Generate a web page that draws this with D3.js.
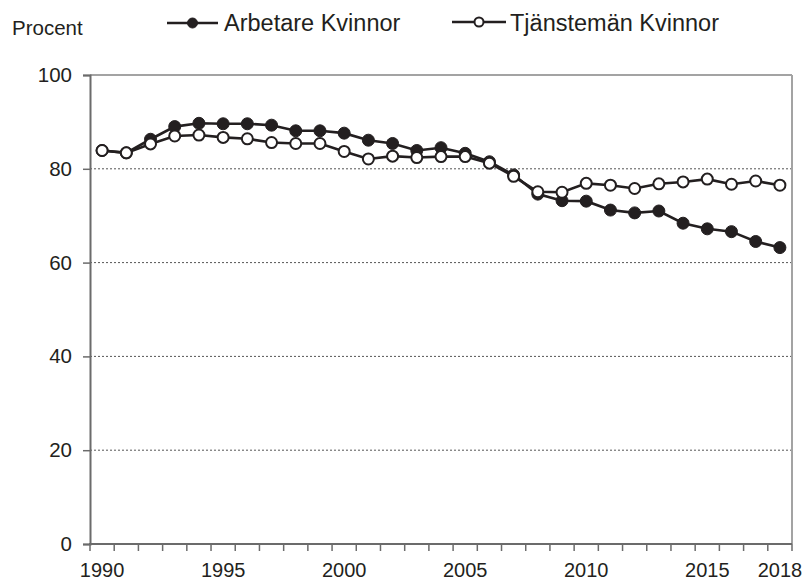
<!DOCTYPE html>
<html>
<head>
<meta charset="utf-8">
<script src="https://cdn.jsdelivr.net/npm/d3@7"></script>
<style>
  html, body { margin: 0; padding: 0; background: #fff; }
  svg { display: block; font-family: "Liberation Sans", Arial, sans-serif; }
</style>
</head>
<body>
<svg id="chart" width="807" height="580"></svg>
<script>
const years = d3.range(1990, 2019);
const arbetareKvinnor = [83.9, 83.4, 86.3, 89.0, 89.7, 89.6, 89.6, 89.3, 88.1, 88.1, 87.6, 86.1, 85.4, 83.9, 84.5, 83.3, 81.5, 78.7, 74.6, 73.2, 73.1, 71.2, 70.6, 71.0, 68.4, 67.2, 66.6, 64.5, 63.2];
const tjanstemanKvinnor = [83.9, 83.4, 85.3, 87.0, 87.2, 86.7, 86.4, 85.6, 85.4, 85.4, 83.7, 82.1, 82.7, 82.4, 82.6, 82.6, 81.2, 78.4, 75.1, 75.0, 76.9, 76.5, 75.8, 76.8, 77.2, 77.8, 76.7, 77.4, 76.5];
const yTicks = [0, 20, 40, 60, 80, 100];
const xTickLabels = [1990, 1995, 2000, 2005, 2010, 2015, 2018];
const seriesNames = ["Arbetare Kvinnor", "Tjänstemän Kvinnor"];

(function () {
const ink = "#231f20";
const svg = d3.select("#chart");
const pLeft = 90, pRight = 792, pTop = 75, pBottom = 544;

const x = d3.scaleBand().domain(years).range([pLeft, pRight]).padding(0);
const y = d3.scaleLinear().domain([0, 100]).range([pBottom, pTop]);
const cx = d => x(d) + x.bandwidth() / 2;

// gridlines
svg.append("g").selectAll("line")
  .data(yTicks.filter(t => t > 0 && t < 100))
  .join("line")
  .attr("x1", pLeft).attr("x2", pRight)
  .attr("y1", d => y(d)).attr("y2", d => y(d))
  .attr("stroke", "#555").attr("stroke-width", 1)
  .attr("stroke-dasharray", "2,2");

// frame top and right
svg.append("line").attr("x1", pLeft).attr("x2", pRight).attr("y1", y(100)).attr("y2", y(100))
  .attr("stroke", "#a3a3a3").attr("stroke-width", 2);
svg.append("line").attr("x1", pRight).attr("x2", pRight).attr("y1", y(100)).attr("y2", y(0))
  .attr("stroke", "#a3a3a3").attr("stroke-width", 2);

// y axis
const yAxis = svg.append("g").attr("transform", `translate(${pLeft},0)`)
  .call(d3.axisLeft(y).tickValues(yTicks).tickSize(7).tickPadding(11).tickFormat(d3.format("d")));
yAxis.select(".domain").attr("stroke", "#6b6b6b").attr("stroke-width", 2);
yAxis.selectAll(".tick line").attr("stroke", "#6b6b6b").attr("stroke-width", 1.5);
yAxis.selectAll("text").attr("font-size", 20.5).attr("fill", ink)
  .attr("font-family", "Liberation Sans, Arial, sans-serif");

// x axis labels (band centers)
const xAxis = svg.append("g").attr("transform", `translate(0,${pBottom})`)
  .call(d3.axisBottom(x).tickValues(xTickLabels).tickSize(0).tickPadding(18.5));
xAxis.select(".domain").remove();
xAxis.selectAll("text").attr("font-size", 20).attr("fill", ink)
  .attr("font-family", "Liberation Sans, Arial, sans-serif");

// x tick marks at band edges
const edges = years.map(d => x(d)).concat([x.range()[1]]);
svg.append("g").selectAll("line").data(edges).join("line")
  .attr("x1", d => d).attr("x2", d => d)
  .attr("y1", pBottom).attr("y2", pBottom + 7)
  .attr("stroke", "#6b6b6b").attr("stroke-width", 1.5);
svg.append("line").attr("x1", pLeft - 1).attr("x2", pRight).attr("y1", pBottom).attr("y2", pBottom)
  .attr("stroke", "#6b6b6b").attr("stroke-width", 2);

// lines
const line = d3.line().x((d, i) => cx(years[i])).y(d => y(d));
svg.append("path").datum(arbetareKvinnor).attr("d", line)
  .attr("fill", "none").attr("stroke", ink).attr("stroke-width", 2.6);
svg.append("g").selectAll("circle").data(arbetareKvinnor).join("circle")
  .attr("cx", (d, i) => cx(years[i])).attr("cy", d => y(d)).attr("r", 6)
  .attr("fill", ink).attr("stroke", ink).attr("stroke-width", 1);

svg.append("path").datum(tjanstemanKvinnor).attr("d", line)
  .attr("fill", "none").attr("stroke", ink).attr("stroke-width", 2.6);
svg.append("g").selectAll("circle").data(tjanstemanKvinnor).join("circle")
  .attr("cx", (d, i) => cx(years[i])).attr("cy", d => y(d)).attr("r", 5.5)
  .attr("fill", "#fff").attr("stroke", ink).attr("stroke-width", 2);

// Procent label
svg.append("text").attr("x", 12).attr("y", 35).attr("font-size", 20.5).attr("fill", ink).text("Procent");

// legend
const leg = [
  { x1: 167, x2: 218, cy: 23, tx: 224, filled: true },
  { x1: 452, x2: 506, cy: 22, tx: 510, filled: false }
];
leg.forEach((l, i) => {
  svg.append("line").attr("x1", l.x1).attr("x2", l.x2).attr("y1", l.cy).attr("y2", l.cy)
    .attr("stroke", ink).attr("stroke-width", 2.5);
  svg.append("circle").attr("cx", (l.x1 + l.x2) / 2).attr("cy", l.cy).attr("r", l.filled ? 5 : 4.5)
    .attr("fill", l.filled ? ink : "#fff").attr("stroke", ink).attr("stroke-width", l.filled ? 1 : 2);
  svg.append("text").attr("x", l.tx).attr("y", 30.5).attr("font-size", 23.5).attr("fill", ink)
    .text(seriesNames[i]);
});
})();
</script>
</body>
</html>
